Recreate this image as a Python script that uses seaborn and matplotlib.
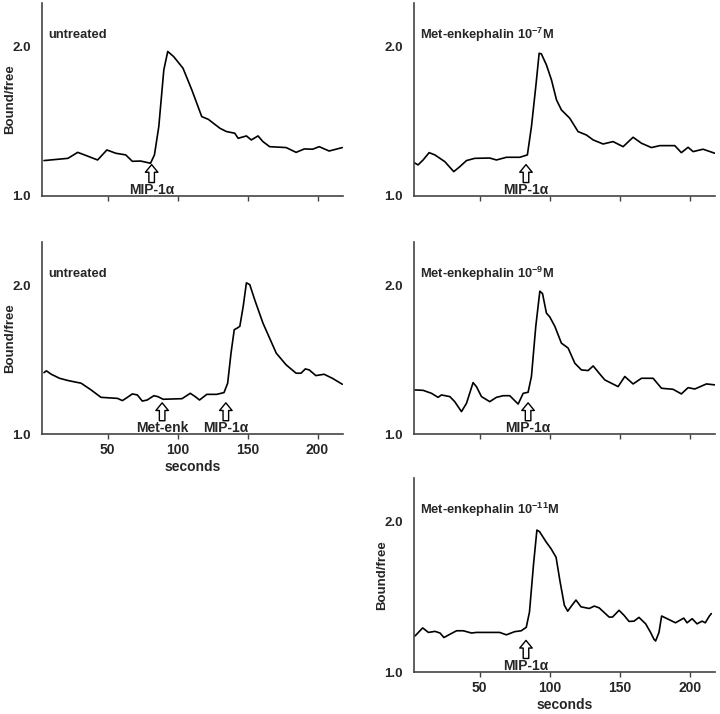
import matplotlib
matplotlib.use("Agg")
import pandas as pd
import matplotlib.pyplot as plt
import seaborn as sns


# untreated (top left), MIP-1a added at ~82 s
untreated_t = [4.6, 21.7, 28.7, 33.5, 42.9, 49.5, 55.9, 63.0, 67.7, 73.6,
               80.7, 83.5, 86.6, 90.2, 93.0, 97.2, 103.9, 110.2, 117.3, 122.0,
               130.3, 135.0, 140.9, 143.3, 149.2, 152.7, 157.5, 161.0, 165.8, 177.6,
               184.7, 190.6, 196.5, 201.2, 208.3, 217.7]
untreated_b = [1.237, 1.252, 1.292, 1.275, 1.241, 1.308, 1.286, 1.275, 1.232, 1.234,
               1.219, 1.275, 1.464, 1.844, 1.967, 1.933, 1.855, 1.710, 1.531, 1.513,
               1.453, 1.431, 1.420, 1.386, 1.402, 1.375, 1.402, 1.364, 1.330, 1.324,
               1.292, 1.315, 1.313, 1.330, 1.301, 1.324]

# Met-enkephalin 1e-7 M (top right)
enk7_t = [3.1, 5.9, 9.5, 13.8, 17.9, 25.0, 31.4, 35.7, 40.5, 46.4,
          57.1, 61.9, 69.0, 78.6, 84.0, 86.9, 90.0, 92.4, 94.0, 97.6,
          101.2, 104.8, 108.3, 114.3, 120.2, 126.2, 131.0, 138.1, 145.2, 152.4,
          159.5, 165.5, 172.6, 178.6, 189.3, 194.0, 198.8, 202.4, 209.5, 217.9]
enk7_b = [1.223, 1.208, 1.241, 1.290, 1.275, 1.230, 1.163, 1.196, 1.237, 1.252,
          1.254, 1.241, 1.259, 1.259, 1.275, 1.464, 1.732, 1.955, 1.951, 1.877,
          1.777, 1.643, 1.576, 1.520, 1.431, 1.408, 1.375, 1.348, 1.364, 1.330,
          1.393, 1.353, 1.324, 1.337, 1.337, 1.290, 1.326, 1.297, 1.313, 1.286]

# untreated, Met-enk then MIP-1a (middle left)
enkpre_t = [4.6, 6.3, 9.8, 15.7, 21.7, 31.1, 38.2, 45.3, 57.1, 60.6,
            64.2, 67.7, 71.3, 74.8, 78.3, 83.1, 85.9, 89.7, 103.2, 109.1,
            112.6, 115.7, 120.9, 128.0, 133.2, 135.8, 138.2, 140.5, 142.6, 144.5,
            146.9, 149.2, 151.6, 155.1, 161.0, 170.5, 177.6, 184.7, 188.2, 191.3,
            194.1, 198.8, 204.7, 210.6, 217.7]
enkpre_b = [1.413, 1.425, 1.402, 1.375, 1.360, 1.342, 1.297, 1.247, 1.240, 1.225,
            1.247, 1.270, 1.263, 1.222, 1.229, 1.258, 1.252, 1.234, 1.238, 1.274,
            1.252, 1.229, 1.267, 1.267, 1.279, 1.342, 1.544, 1.701, 1.712, 1.724,
            1.858, 2.016, 2.004, 1.903, 1.746, 1.544, 1.465, 1.409, 1.409, 1.438,
            1.431, 1.393, 1.402, 1.375, 1.335]

# Met-enkephalin 1e-9 M (middle right)
enk9_t = [3.1, 9.5, 15.5, 20.2, 22.6, 28.6, 32.1, 36.9, 40.5, 45.2,
          47.6, 51.2, 57.1, 61.9, 66.7, 71.4, 77.4, 81.0, 84.5, 86.9,
          90.0, 92.9, 94.8, 97.6, 100.0, 103.6, 108.3, 113.1, 117.9, 122.6,
          127.4, 131.0, 135.7, 139.3, 148.8, 153.6, 159.5, 165.5, 173.8, 179.8,
          188.1, 194.0, 198.8, 203.6, 211.9, 218.6]
enk9_b = [1.297, 1.294, 1.274, 1.247, 1.263, 1.252, 1.218, 1.151, 1.207, 1.346,
          1.319, 1.252, 1.218, 1.247, 1.258, 1.258, 1.202, 1.274, 1.281, 1.387,
          1.724, 1.960, 1.944, 1.813, 1.787, 1.724, 1.611, 1.578, 1.476, 1.431,
          1.427, 1.458, 1.404, 1.364, 1.319, 1.387, 1.337, 1.375, 1.375, 1.308,
          1.301, 1.270, 1.312, 1.303, 1.337, 1.330]

# Met-enkephalin 1e-11 M (bottom right)
enk11_t = [0.9, 3.8, 9.2, 13.3, 18.0, 21.6, 24.4, 27.5, 33.4, 38.2,
           44.1, 47.6, 64.2, 69.0, 74.9, 79.6, 83.2, 85.5, 88.4, 90.8,
           92.7, 97.4, 100.9, 104.5, 107.3, 110.4, 112.8, 115.9, 118.7, 122.3,
           128.2, 131.8, 135.3, 142.4, 144.8, 149.5, 153.1, 156.6, 160.2, 163.7,
           168.5, 172.0, 174.4, 175.6, 178.0, 179.9, 183.9, 189.8, 195.7, 198.1,
           201.7, 205.2, 208.8, 211.1, 214.0, 215.4]
enk11_b = [1.245, 1.240, 1.293, 1.263, 1.270, 1.259, 1.229, 1.245, 1.274, 1.274,
           1.259, 1.263, 1.263, 1.247, 1.268, 1.274, 1.297, 1.399, 1.717, 1.943,
           1.932, 1.864, 1.819, 1.762, 1.603, 1.444, 1.404, 1.444, 1.478, 1.433,
           1.422, 1.438, 1.426, 1.365, 1.365, 1.410, 1.376, 1.336, 1.338, 1.363,
           1.320, 1.263, 1.218, 1.206, 1.263, 1.372, 1.354, 1.327, 1.358, 1.327,
           1.354, 1.320, 1.338, 1.327, 1.372, 1.388]

panel_titles = ["untreated", r"Met-enkephalin 10$^{-7}$M", "untreated",
                r"Met-enkephalin 10$^{-9}$M", r"Met-enkephalin 10$^{-11}$M"]

# arrow markers: (time, label) per panel
panel_arrows = [
    [(81.5, "MIP-1α")],
    [(83.0, "MIP-1α")],
    [(89.0, "Met-enk"), (134.5, "MIP-1α")],
    [(84.5, "MIP-1α")],
    [(83.0, "MIP-1α")],
]

x_ticks = [50, 100, 150, 200]
y_ticks = [1.0, 2.0]


sns.set_style("ticks")
plt.rcParams["font.family"] = ["Liberation Sans", "DejaVu Sans"]
plt.rcParams["font.weight"] = "bold"
plt.rcParams["mathtext.fontset"] = "custom"
plt.rcParams["mathtext.rm"] = "Liberation Sans:bold"
plt.rcParams["mathtext.it"] = "Liberation Sans:bold"
plt.rcParams["mathtext.bf"] = "Liberation Sans:bold"

fig = plt.figure(figsize=(7.2, 7.14), dpi=100)

# axes boxes [left, bottom, width, height] in figure fraction
boxes = [
    [0.058, 0.7255, 0.418, 0.270],
    [0.575, 0.7255, 0.418, 0.270],
    [0.058, 0.392, 0.418, 0.269],
    [0.575, 0.392, 0.418, 0.269],
    [0.575, 0.0588, 0.418, 0.272],
]

series = [
    (untreated_t, untreated_b),
    (enk7_t, enk7_b),
    (enkpre_t, enkpre_b),
    (enk9_t, enk9_b),
    (enk11_t, enk11_b),
]

show_ylabel = [True, False, True, False, True]
show_xlabels = [False, False, True, False, True]

for i, (t, b) in enumerate(series):

    ax = fig.add_axes(boxes[i])

    df = pd.DataFrame({"t": t, "b": b})

    sns.lineplot(
        data=df,
        x="t",
        y="b",
        ax=ax,
        color="black",
        linewidth=1.2
    )

    ax.set_xlim(3, 218)
    ax.set_ylim(1.0, 2.29)

    ax.set_yticks(y_ticks)
    ax.set_yticklabels(["1.0", "2.0"])
    ax.tick_params(axis="y", length=0, pad=8, labelsize=9.5)

    ax.set_xticks(x_ticks)
    ax.tick_params(axis="x", length=3.5, width=1, color="#444444",
                   direction="out", labelsize=10, pad=3)

    if show_xlabels[i]:
        ax.set_xticklabels([str(v) for v in x_ticks])
        ax.set_xlabel("seconds", fontsize=10, fontweight="bold", labelpad=2)
    else:
        ax.set_xticklabels([])
        ax.set_xlabel("")

    if show_ylabel[i]:
        ax.set_ylabel("Bound/free", fontsize=9.5, fontweight="bold")
        ax.yaxis.set_label_coords(-0.086, 0.5)
    else:
        ax.set_ylabel("")

    sns.despine(ax=ax)
    for side in ["left", "bottom"]:
        ax.spines[side].set_color("#444444")
        ax.spines[side].set_linewidth(1.2)

    ax.text(
        0.02, 0.835, panel_titles[i],
        transform=ax.transAxes,
        fontsize=9.3, fontweight="bold",
        va="center", ha="left"
    )

    for when, label in panel_arrows[i]:

        ax.annotate(
            "",
            xy=(when, 1.21),
            xytext=(when, 1.09),
            arrowprops=dict(
                arrowstyle="simple,head_length=0.55,head_width=0.9,tail_width=0.4",
                fc="white",
                ec="black",
                lw=1.0,
                shrinkA=0,
                shrinkB=0,
                mutation_scale=10
            )
        )

        ax.text(
            when, 1.038, label,
            fontsize=10, fontweight="bold",
            ha="center", va="center"
        )

fig.savefig("out.png", dpi=100)
